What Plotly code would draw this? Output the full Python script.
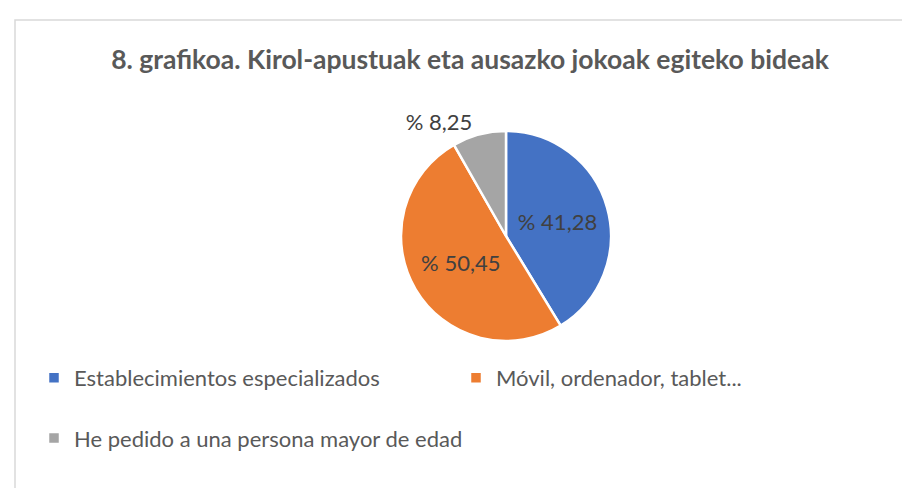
import plotly.graph_objects as go

title = "8. grafikoa. Kirol-apustuak eta ausazko jokoak egiteko bideak"
categories = ["Establecimientos especializados", "Móvil, ordenador, tablet...", "He pedido a una persona mayor de edad"]
values = [41.28, 50.45, 8.25]
colors = ["#4472C4", "#ED7D31", "#A5A5A5"]
text_positions = ["inside", "inside", "outside"]

W, H = 910, 488
cx, cy, r = 498, 228, 105

fig = go.Figure(go.Pie(
    labels=[c + "<br> " if i < 2 else c for i, c in enumerate(categories)],
    values=values,
    sort=False,
    direction="clockwise",
    rotation=0,
    marker=dict(colors=colors, line=dict(color="white", width=2.5)),
    texttemplate="% %{value:.2f}",
    textposition=text_positions,
    insidetextorientation="horizontal",
    textfont=dict(family="Lato", size=22, color="#404040"),
    domain=dict(x=[(cx - r) / W, (cx + r) / W], y=[(H - cy - r) / H, (H - cy + r) / H]),
    hoverinfo="skip",
))

fig.update_layout(
    width=W, height=H,
    margin=dict(l=0, r=0, t=0, b=0),
    paper_bgcolor="white",
    separators=", ",
    title=dict(text="<b>" + title + "</b>", x=462 / W, xanchor="center", y=1 - 52 / H, yanchor="middle",
               font=dict(family="Lato", size=26.5, color="#595959")),
    showlegend=True,
    legend=dict(orientation="h", x=26 / W, xanchor="left", y=1 - 349 / H, yanchor="top",
                entrywidth=377, entrywidthmode="pixels", valign="top", bgcolor="rgba(0,0,0,0)",
                font=dict(family="Lato", size=22, color="#595959"), traceorder="normal"),
    shapes=[dict(type="rect", xref="paper", yref="paper", x0=7 / W, x1=1.02, y0=-0.02, y1=1 - 12 / H,
                 line=dict(color="#D9D9D9", width=1.5))],
)

fig.write_html("out.html")
